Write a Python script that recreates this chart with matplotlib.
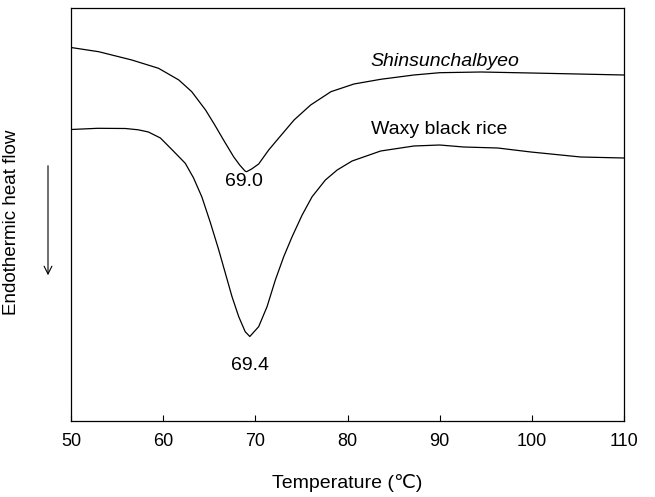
import matplotlib
matplotlib.use("Agg")
import matplotlib.pyplot as plt

plt.rcParams['font.family'] = ['Liberation Sans', 'DejaVu Sans']

# Temperature (deg C) and heat flow (arbitrary units)
shin_T = [50.0, 53.0, 56.6, 59.5, 61.7, 63.1, 64.6, 65.6, 66.55, 67.64, 68.3, 68.9, 69.05,
          69.6, 70.36, 71.45, 72.36, 74.2, 76.0, 78.2, 80.7, 83.6, 87.2, 90.0,
          94.5, 99.9, 105.0, 110.0]
shin_H = [373.5, 369.3, 361.0, 352.7, 341.0, 329.3, 311.0, 296.0, 281.0, 264.3, 256.0, 249.8, 249.3,
          252.0, 257.0, 271.0, 281.0, 301.0, 316.0, 329.3, 337.0, 341.7, 346.0, 348.3,
          349.0, 348.0, 347.0, 346.0]

waxy_T = [50.0, 52.9, 55.9, 57.3, 58.4, 59.7, 61.1, 62.4, 63.3, 64.2, 65.1, 66.0, 66.74, 67.47,
          68.2, 68.9, 69.4, 70.36, 71.27, 72.17, 73.08, 73.99, 75.08, 76.16, 77.6, 78.88,
          80.5, 83.6, 87.2, 90.0, 92.6, 96.3, 99.9, 105.3, 110.0]
waxy_H = [291.5, 292.7, 292.5, 291.2, 289.0, 283.0, 270.0, 257.7, 243.0, 224.0, 199.0, 172.0, 148.0, 124.3,
          104.3, 89.3, 84.5, 94.3, 114.3, 141.0, 164.3, 184.3, 206.0, 224.3, 241.0, 251.0,
          260.0, 270.0, 275.0, 276.0, 274.0, 273.0, 269.0, 264.0, 263.0]

x_ticks = [50, 60, 70, 80, 90, 100, 110]
series_names = ["Shinsunchalbyeo", "Waxy black rice"]
peak_labels = ["69.0", "69.4"]

W, H = 655, 497
fig = plt.figure(figsize=(W / 100, H / 100), dpi=100)
ax = fig.add_axes([71 / W, 1 - 421 / H, (624 - 71) / W, (421 - 8) / H])

ax.plot(shin_T, shin_H, color='black', lw=0.9)
ax.plot(waxy_T, waxy_H, color='black', lw=0.9)

ax.set_xlim(50, 110)
ax.set_ylim(0, 413)
ax.set_xticks(x_ticks)
ax.set_xticklabels([str(t) for t in x_ticks])
ax.set_yticks([])
ax.tick_params(axis='x', direction='in', length=4, width=0.8, labelsize=13, pad=9)
for s in ax.spines.values():
    s.set_linewidth(0.9)

ax.set_xlabel("Temperature (\u2103)", fontsize=14, labelpad=17)

ax.text(82.5, 359, series_names[0], fontsize=14, style='italic', ha='left', va='center')
ax.text(82.5, 291, series_names[1], fontsize=14, ha='left', va='center')
ax.text(68.8, 239, peak_labels[0], fontsize=14, ha='center', va='center')
ax.text(69.45, 56, peak_labels[1], fontsize=14, ha='center', va='center')

fig.text(12 / W, 1 - 222 / H, "Endothermic heat flow", rotation=90, fontsize=13.5,
         ha='center', va='center')
ax.annotate("", xy=(48 / W, 1 - 278 / H), xytext=(48 / W, 1 - 163 / H),
            xycoords='figure fraction', textcoords='figure fraction',
            arrowprops=dict(arrowstyle='->', lw=0.8, color='black',
                            mutation_scale=14))

fig.savefig("out.png", dpi=100)
